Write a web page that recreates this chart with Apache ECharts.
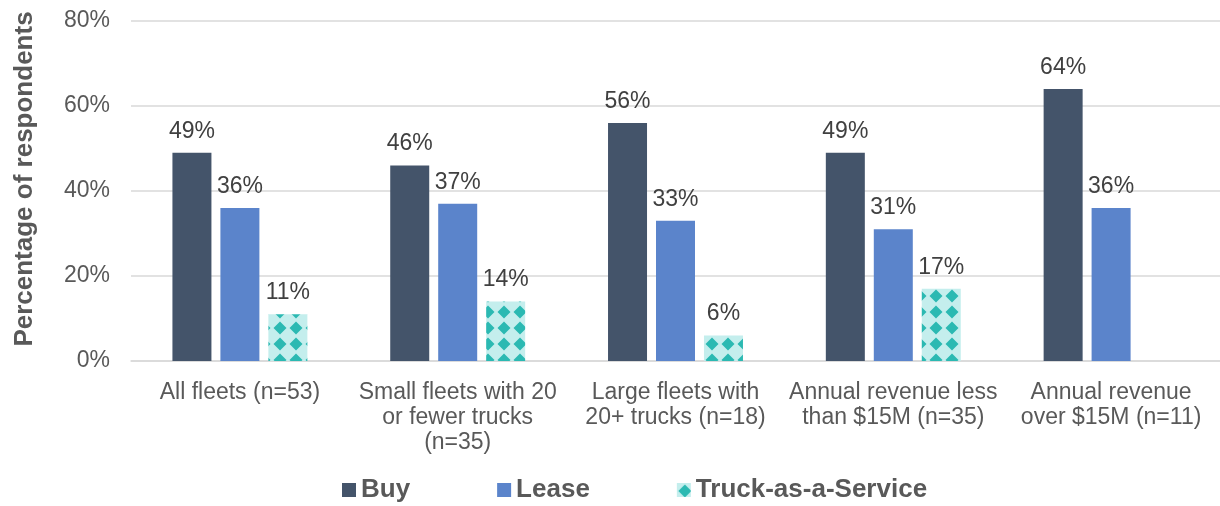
<!DOCTYPE html>
<html>
<head>
<meta charset="utf-8">
<script src="https://cdn.jsdelivr.net/npm/echarts@6/dist/echarts.min.js"></script>
<style>
  html, body { margin: 0; padding: 0; background: #fff; }
  #chart { width: 1220px; height: 506px; }
</style>
</head>
<body>
<div id="chart"></div>
<script>
// Survey results: how fleets plan to acquire trucks
const categories = [
  'All fleets (n=53)',
  'Small fleets with 20\nor fewer trucks\n(n=35)',
  'Large fleets with\n20+ trucks (n=18)',
  'Annual revenue less\nthan $15M (n=35)',
  'Annual revenue\nover $15M (n=11)'
];
const buyValues   = [49, 46, 56, 49, 64];
const leaseValues = [36, 37, 33, 31, 36];
const taasValues  = [11, 14, 6, 17, null];
const yTicks = [0, 20, 40, 60, 80];

const FONT = '"Liberation Sans", Arial, sans-serif';

// Diamond tile fill for the Truck-as-a-Service bars
function diamondPattern() {
  const size = 16;
  const c = document.createElement('canvas');
  c.width = size; c.height = size;
  const ctx = c.getContext('2d');
  ctx.fillStyle = '#c4eeed';
  ctx.fillRect(0, 0, size, size);
  ctx.fillStyle = '#2bb9b2';
  ctx.beginPath();
  ctx.moveTo(8, 1.5);
  ctx.lineTo(14.5, 8);
  ctx.lineTo(8, 14.5);
  ctx.lineTo(1.5, 8);
  ctx.closePath();
  ctx.fill();
  return { image: c, repeat: 'repeat' };
}

const chart = echarts.init(document.getElementById('chart'), null, { renderer: 'canvas' });
const labelStyle = {
  show: true, position: 'top', distance: 10,
  formatter: p => p.value + '%',
  color: '#404040', fontSize: 23, fontFamily: FONT
};

chart.setOption({
  animation: false,
  textStyle: { fontFamily: FONT },
  grid: { left: 131, right: 0, top: 21, bottom: 145, containLabel: false },
  legend: {
    top: 472,
    left: 337,
    itemWidth: 14, itemHeight: 14, itemGap: 87,
    icon: 'rect',
    textStyle: { fontSize: 26, fontWeight: 'bold', color: '#595959', fontFamily: FONT },
    data: ['Buy', 'Lease', 'Truck-as-a-Service']
  },
  xAxis: {
    type: 'category',
    data: categories,
    axisLine: { lineStyle: { color: '#d9d9d9', width: 1.5 } },
    axisTick: { show: false },
    axisLabel: { color: '#595959', fontSize: 23, lineHeight: 25, margin: 19, interval: 0, fontFamily: FONT }
  },
  yAxis: {
    type: 'value',
    min: yTicks[0], max: yTicks[yTicks.length - 1], interval: 20,
    name: 'Percentage of respondents',
    nameLocation: 'middle', nameRotate: 90, nameGap: 93,
    nameTextStyle: { fontSize: 26, fontWeight: 'bold', color: '#595959', fontFamily: FONT, padding: [0, 0, 0, 24] },
    axisLine: { show: false },
    axisTick: { show: false },
    axisLabel: { formatter: '{value}%', color: '#595959', fontSize: 23, margin: 21, fontFamily: FONT },
    splitLine: { lineStyle: { color: '#d9d9d9', width: 1.5 } }
  },
  series: [
    { name: 'Buy', type: 'bar', data: buyValues, barWidth: 39, barGap: '23%',
      itemStyle: { color: '#44546a' }, label: labelStyle },
    { name: 'Lease', type: 'bar', data: leaseValues, barWidth: 39, barGap: '23%',
      itemStyle: { color: '#5b84cb' }, label: labelStyle },
    { name: 'Truck-as-a-Service', type: 'bar', data: taasValues, barWidth: 39, barGap: '23%',
      itemStyle: { color: diamondPattern() }, label: labelStyle }
  ]
});
</script>
</body>
</html>
